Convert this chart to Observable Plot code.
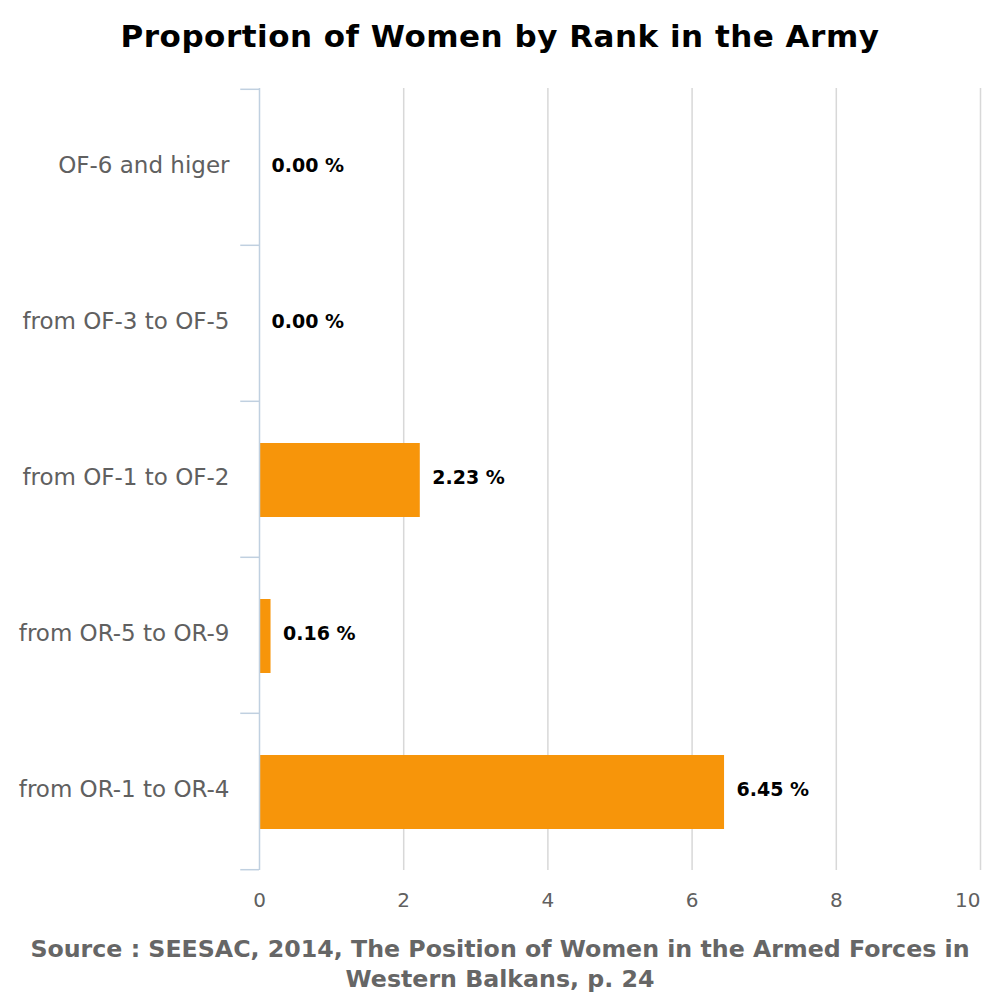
<!DOCTYPE html>
<html>
<head>
<meta charset="utf-8">
<script src="https://cdn.jsdelivr.net/npm/d3@7"></script>
<script src="https://cdn.jsdelivr.net/npm/@observablehq/plot@0.6"></script>
<style>
  html, body { margin: 0; padding: 0; background: #fff; }
  #title { height: 70px; box-sizing: border-box; padding-top: 17px; text-align: center;
    font-family: "DejaVu Sans", sans-serif; font-weight: bold; font-size: 31px; letter-spacing: 0.5px; color: #000; line-height: 38px; }
  #caption { text-align: center; font-family: "DejaVu Sans", sans-serif; white-space: nowrap;
    font-weight: bold; font-size: 23.7px; line-height: 30px; color: #666; padding-top: 14px; }
  svg { display: block; }
</style>
</head>
<body>
<div id="title">Proportion of Women by Rank in the Army</div>
<div id="chart"></div>
<div id="caption">Source : SEESAC, 2014, The Position of Women in the Armed Forces in<br>Western Balkans, p. 24</div>
<script>
const categories = ["OF-6 and higer", "from OF-3 to OF-5", "from OF-1 to OF-2", "from OR-5 to OR-9", "from OR-1 to OR-4"];
const values = [0.00, 0.00, 2.23, 0.16, 6.45];
const xTicks = [0, 2, 4, 6, 8, 10];

const data = categories.map((c, i) => ({category: c, value: values[i]}));

const H = 850, mTop = 18, mBottom = 50;
const bw = (H - mTop - mBottom) / categories.length;

const chart = Plot.plot({
  width: 1000,
  height: H,
  marginTop: mTop,
  marginBottom: mBottom,
  marginLeft: 259,
  marginRight: 20,
  style: {fontFamily: "DejaVu Sans, sans-serif", background: "#fff"},
  x: {domain: [0, 10], ticks: xTicks},
  y: {domain: categories, padding: 0},
  marks: [
    Plot.ruleX(xTicks.filter(d => d > 0), {stroke: "#d8d8d8", strokeWidth: 1.5}),
    Plot.barX(data, {x: "value", y: "category", fill: "#f7950a", insetTop: 42, insetBottom: 40}),
    Plot.ruleX([0], {stroke: "#c0d0e0", strokeWidth: 1.5}),
    Plot.ruleY(categories, {y: d => d, x1: -0.26, x2: 0, dy: -bw / 2, stroke: "#c0d0e0", strokeWidth: 1.5, clip: false}),
    Plot.ruleY([categories[categories.length - 1]], {y: d => d, x1: -0.26, x2: 0, dy: bw / 2, stroke: "#c0d0e0", strokeWidth: 1.5, clip: false}),
    Plot.axisY({tickSize: 0, tickPadding: 30, fontSize: 23, fill: "#606060", label: null, dy: -2}),
    Plot.axisX(xTicks.filter(d => d < 10), {tickSize: 0, tickPadding: 22, fontSize: 20, fill: "#606060", label: null}),
    Plot.axisX([10], {tickSize: 0, tickPadding: 22, fontSize: 20, fill: "#606060", label: null, textAnchor: "end", dx: 0}),
    Plot.text(data, {x: "value", y: "category", text: d => d.value.toFixed(2) + " %", textAnchor: "start", dx: 12, dy: -2,
      fontSize: 19, fontWeight: "bold", fill: "#000"})
  ]
});
document.getElementById("chart").appendChild(chart);
</script>
</body>
</html>
